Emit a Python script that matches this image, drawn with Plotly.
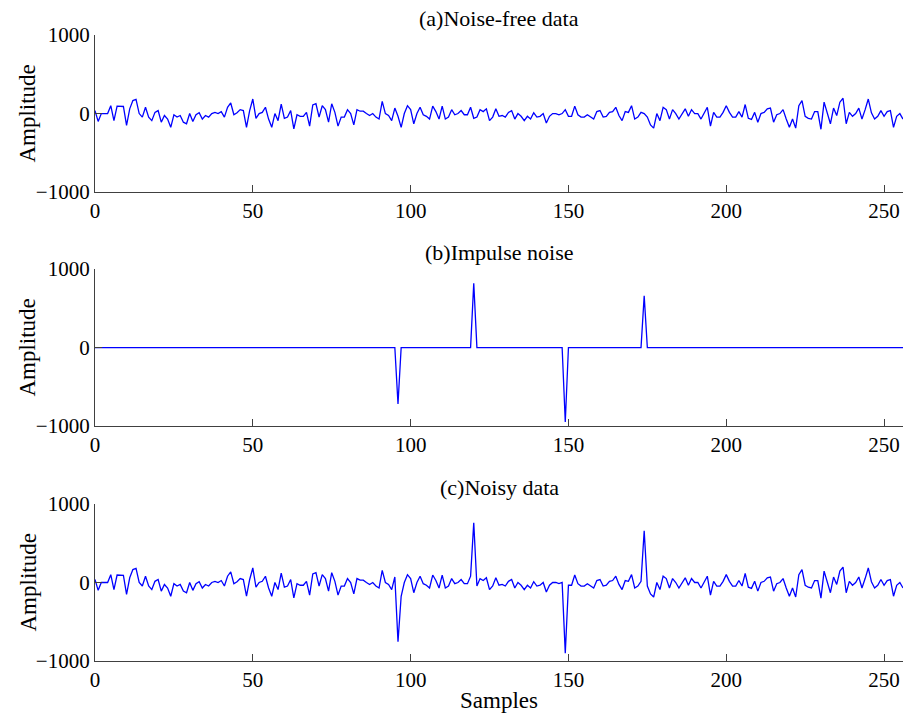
import plotly.graph_objects as go

samples = list(range(0, 257))

clean = [
    38, -100, 0, 0, 0, 100, -90, 95, 95, 90,
    -150, 60, 165, 180, 0, -45, 80, -45, -90, 15,
    38, -110, -25, -70, -175, -15, -45, -25, -110, -130,
    0, -100, -15, 10, -70, -25, -45, 0, 15, 0,
    25, -45, 80, 135, -15, 10, 50, 38, -175, 38,
    185, -60, 0, 15, 80, -70, -175, 0, -90, 120,
    -60, -45, 38, -195, -15, -35, -35, 15, -160, 110,
    125, -45, 100, 50, -110, 125, 15, -160, -45, -45,
    50, 0, -145, 50, 30, 30, 0, -25, 0, -45,
    -70, 155, 0, -25, -90, 70, -35, -175, 0, 100,
    50, -130, 0, 80, -15, -35, -70, 95, 25, -70,
    95, -70, -45, 50, -15, 0, 38, -15, -15, 80,
    -60, -45, 50, 25, 60, -90, -45, 60, -35, -25,
    -45, 15, 38, -70, 0, -35, -90, -35, -70, 10,
    -45, -35, 0, -120, -35, 0, 0, -15, 0, 50,
    -35, -35, 95, -15, -45, -45, -15, -45, -70, 25,
    38, -45, -35, 15, 25, 80, -25, -90, 25, 15,
    100, -70, -45, 15, 0, -45, -145, -185, 0, -90,
    80, 50, -70, 50, 0, -70, 0, 60, -35, 50,
    0, 0, -70, 0, 80, -160, 15, -45, -45, 15,
    100, 15, -45, -45, 25, -45, 115, -60, -75, 15,
    -110, 0, 15, 60, 70, -110, -15, 0, 50, -70,
    -175, -70, -185, 100, 165, -35, -60, -70, 25, 25,
    -200, 145, 15, -130, 70, -25, 145, 195, -130, 15,
    -35, 0, 70, -70, 50, 185, 10, -70, -35, 38,
    -35, 25, 38, -175, -35, 0, -70,
]

impulse_pos = [96, 120, 149, 174]
impulse_amp = [-720, 820, -950, 660]

impulse = [0] * len(samples)
for p, a in zip(impulse_pos, impulse_amp):
    impulse[p] = a
noisy = [c + i for c, i in zip(clean, impulse)]

titles = ["(a)Noise-free data", "(b)Impulse noise", "(c)Noisy data"]
series = [clean, impulse, noisy]

x_ticks = [0, 50, 100, 150, 200, 250]
y_ticks = [-1000, 0, 1000]

font_family = "Liberation Serif"
axis_color = "#404040"
line_color = "#0000FF"

domains = [[0.749, 1.0], [0.3754, 0.626], [0.0, 0.2508]]

fig = go.Figure()
for k, (ys, dom) in enumerate(zip(series, domains)):
    suffix = "" if k == 0 else str(k + 1)
    fig.add_trace(go.Scatter(
        x=samples, y=ys, mode="lines",
        line=dict(color=line_color, width=1.3),
        xaxis="x" + suffix, yaxis="y" + suffix,
        showlegend=False, hoverinfo="skip",
    ))
    xa = dict(
        domain=[0, 1], range=[0, 256], anchor="y" + suffix,
        tickvals=x_ticks, ticks="inside", ticklen=7, tickwidth=1,
        tickcolor=axis_color, showline=True, linecolor=axis_color, linewidth=1.3,
        showgrid=False, zeroline=False,
        tickfont=dict(family=font_family, size=21, color="#000"),
    )
    ya = dict(
        domain=dom, range=[-1000, 1000], anchor="x" + suffix,
        tickvals=y_ticks, ticks="inside", ticklen=7, tickwidth=1,
        tickcolor=axis_color, showline=True, linecolor=axis_color, linewidth=1.3,
        showgrid=False, zeroline=False,
        tickfont=dict(family=font_family, size=21, color="#000"),
    )
    if k == 2:
        xa["title"] = dict(text="Samples", font=dict(family=font_family, size=23, color="#000"), standoff=0)
    fig.layout["xaxis" + suffix] = xa
    fig.layout["yaxis" + suffix] = ya
    fig.add_annotation(
        text=titles[k], xref="paper", yref="paper", x=0.5, y=dom[1],
        xanchor="center", yanchor="bottom", yshift=2, showarrow=False,
        font=dict(family=font_family, size=22, color="#000"),
    )
    fig.add_annotation(
        text="Amplitude", xref="paper", yref="paper", x=0, y=(dom[0] + dom[1]) / 2,
        xanchor="center", yanchor="middle", xshift=-67, textangle=-90, showarrow=False,
        font=dict(family=font_family, size=23, color="#000"),
    )

fig.update_layout(
    width=904, height=716,
    margin=dict(l=95, r=1, t=35, b=55),
    paper_bgcolor="white", plot_bgcolor="white",
)

fig.write_html("out.html")
